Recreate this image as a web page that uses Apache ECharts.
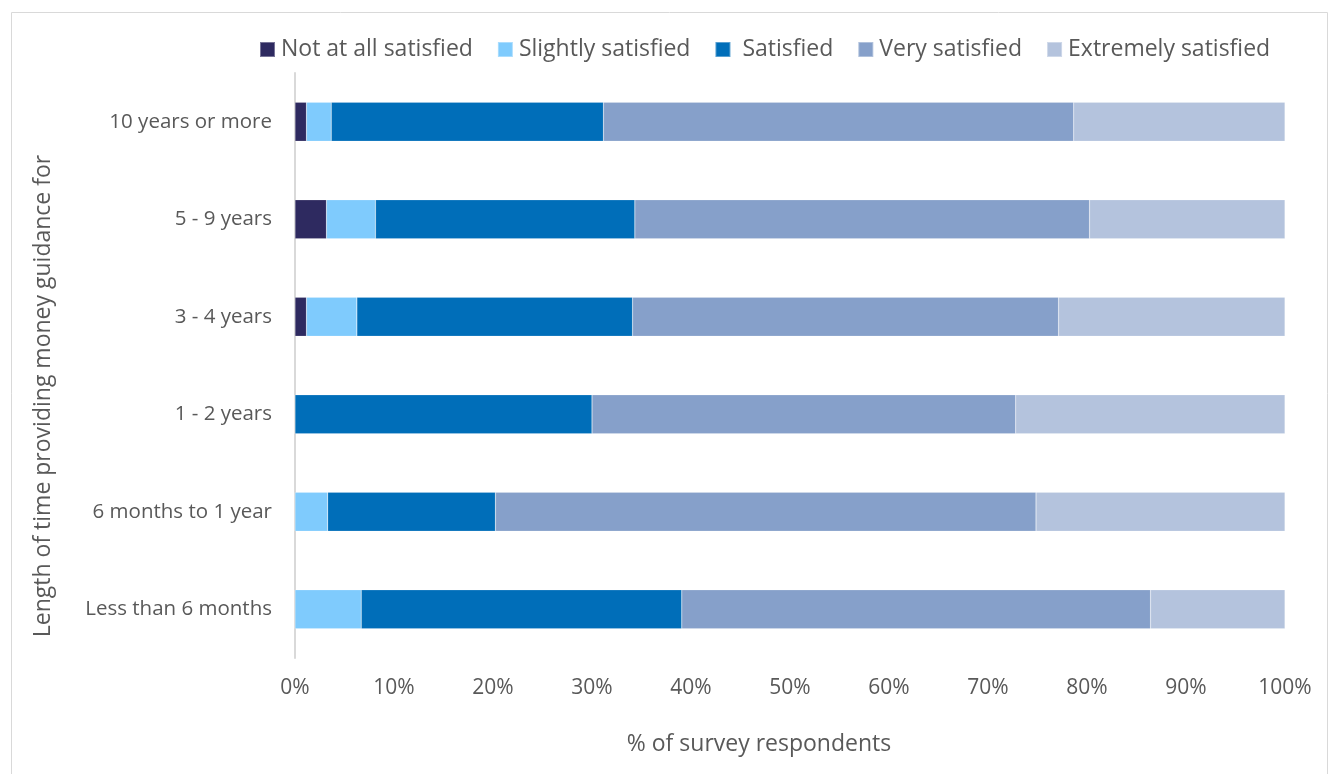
<!DOCTYPE html>
<html>
<head>
<meta charset="utf-8">
<title>Satisfaction by length of time providing money guidance</title>
<script src="https://cdn.jsdelivr.net/npm/echarts@6/dist/echarts.min.js"></script>
<style>
  html, body { margin: 0; padding: 0; background: #ffffff; }
  #chart { width: 1330px; height: 774px; }
</style>
</head>
<body>
<div id="chart"></div>
<script>
// Categories, bottom to top as ECharts lays out a category y-axis
const categories = ['Less than 6 months', '6 months to 1 year', '1 - 2 years', '3 - 4 years', '5 - 9 years', '10 years or more'];

// Share of respondents (%) in each satisfaction level, same order as categories
const notAtAll   = [0,     0,     0,     1.16,  3.18,  1.16];
const slightly   = [6.69,  3.30,  0,     5.09,  4.95,  2.50];
const satisfied  = [32.38, 16.95, 30.00, 27.85, 26.20, 27.50];
const very       = [47.35, 54.60, 42.80, 43.03, 45.93, 47.50];
const extremely  = [13.58, 25.15, 27.20, 22.87, 19.74, 21.34];

const seriesNames = ['Not at all satisfied', 'Slightly satisfied', 'Satisfied', 'Very satisfied', 'Extremely satisfied'];
const seriesData  = [notAtAll, slightly, satisfied, very, extremely];
const colors      = ['#2E2A60', '#7FCBFD', '#006EB9', '#86A0CA', '#B4C3DD'];

const xTicks = [0, 10, 20, 30, 40, 50, 60, 70, 80, 90, 100];

const textColor = '#595959';
const fontFamily = '"Open Sans", "Noto Sans", sans-serif';

const chart = echarts.init(document.getElementById('chart'), null, { renderer: 'canvas' });

chart.setOption({
  animation: false,
  color: colors,
  textStyle: { fontFamily: fontFamily },
  graphic: [{
    type: 'rect',
    shape: { x: 11.5, y: 12.5, width: 1316, height: 800 },
    style: { fill: 'none', stroke: '#d9d9d9', lineWidth: 1 },
    silent: true
  }],
  legend: {
    top: 38,
    left: 259,
    padding: 0,
    itemWidth: 15,
    itemHeight: 15,
    itemGap: 24,
    icon: 'rect',
    textStyle: { fontSize: 23, color: textColor, fontFamily: fontFamily, padding: [0, 0, 0, 1] },
    formatter: function (name) { return name === 'Satisfied' ? ' ' + name : name; },
    data: seriesNames
  },
  grid: {
    left: 295,
    right: 45,
    top: 73,
    bottom: 116,
    containLabel: false
  },
  xAxis: {
    type: 'value',
    min: xTicks[0],
    max: xTicks[xTicks.length - 1],
    interval: xTicks[1] - xTicks[0],
    axisLine: { show: false },
    axisTick: { show: false },
    splitLine: { show: false },
    axisLabel: {
      color: textColor,
      fontSize: 21,
      margin: 20,
      formatter: '{value}%'
    },
    name: '% of survey respondents',
    nameLocation: 'middle',
    nameGap: 75,
    nameTextStyle: { color: textColor, fontSize: 23, padding: [0, 62, 0, 0] }
  },
  yAxis: {
    type: 'category',
    data: categories,
    axisLine: { show: true, lineStyle: { color: '#d9d9d9', width: 2 } },
    axisTick: { show: false },
    axisLabel: { color: textColor, fontSize: 20.5, margin: 23 },
    name: 'Length of time providing money guidance for',
    nameLocation: 'middle',
    nameGap: 240,
    nameRotate: 90,
    nameTextStyle: { color: textColor, fontSize: 23, padding: [0, 61, 0, 0] }
  },
  series: seriesNames.map(function (name, i) {
    return {
      name: name,
      type: 'bar',
      stack: 'total',
      barCategoryGap: '60%',
      data: seriesData[i],
      itemStyle: { color: colors[i], borderColor: 'rgba(255,255,255,0.35)', borderWidth: 0.5 },
      emphasis: { disabled: true }
    };
  })
});
</script>
</body>
</html>
